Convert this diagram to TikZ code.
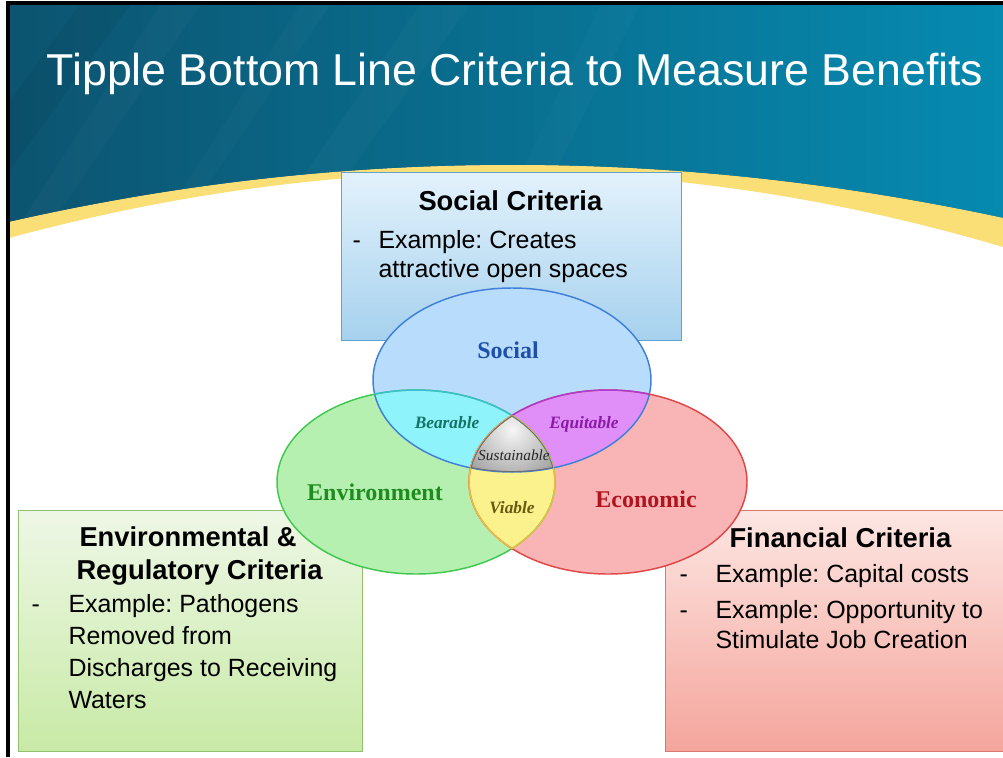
\documentclass[tikz,border=0pt]{standalone}
\usepackage{fontspec}
\setmainfont{Liberation Sans}
\newfontfamily\vennfont{Liberation Serif}
\frenchspacing

\definecolor{headdark}{RGB}{12,84,112}
\definecolor{headlight}{RGB}{6,138,176}
\definecolor{bandyellow}{RGB}{250,222,118}
\definecolor{socialfill}{RGB}{184,220,251}
\definecolor{envfill}{RGB}{182,240,176}
\definecolor{econfill}{RGB}{249,181,181}
\definecolor{bearfill}{RGB}{143,243,251}
\definecolor{equifill}{RGB}{223,143,247}
\definecolor{viafill}{RGB}{251,242,142}
\definecolor{socialline}{RGB}{64,128,216}
\definecolor{envline}{RGB}{64,200,80}
\definecolor{econline}{RGB}{224,72,72}
\definecolor{bearline}{RGB}{60,190,210}
\definecolor{equiline}{RGB}{170,60,210}
\definecolor{vialine}{RGB}{232,190,64}
\definecolor{sustline}{RGB}{110,110,110}
\definecolor{sociallabel}{RGB}{31,79,168}
\definecolor{envlabel}{RGB}{30,140,30}
\definecolor{econlabel}{RGB}{176,20,30}
\definecolor{bearlabel}{RGB}{19,116,102}
\definecolor{equilabel}{RGB}{138,26,166}
\definecolor{vialabel}{RGB}{106,90,16}

\newcommand{\socialEllipse}{(512,380) ellipse [x radius=139, y radius=92]}
\newcommand{\envEllipse}{(416,482) ellipse [x radius=139, y radius=92]}
\newcommand{\econEllipse}{(608,482) ellipse [x radius=139, y radius=92]}

\tikzset{every picture/.style={line width=0.75pt},
  headtext/.style={inner sep=0pt, font=\bfseries\fontsize{20.5}{24}\selectfont},
  bodytext/.style={inner sep=0pt, font=\fontsize{18.7}{22}\selectfont},
  vennbig/.style={inner sep=0pt, font=\vennfont\bfseries\fontsize{18}{20}\selectfont},
  vennsmall/.style={inner sep=0pt, font=\vennfont\bfseries\itshape\fontsize{13}{15}\selectfont}}

\begin{document}
\begin{tikzpicture}[x=0.75pt,y=0.75pt,yscale=-1,xscale=1]
\useasboundingbox (0,0) rectangle (1003,757);
\fill[white] (0,0) rectangle (1003,757);

%Shape: Header
\fill[left color=headdark, right color=headlight] (9,5) -- (1003,5) -- (1003,218) .. controls (670,146.7) and (340,146.7) .. (9,222) -- cycle ;
\begin{scope}
\clip (9,5) -- (1003,5) -- (1003,218) .. controls (670,146.7) and (340,146.7) .. (9,222) -- cycle ;
\fill[white, opacity=0.025] (160,5) -- (200,5) -- (40,240) -- (10,240) -- cycle ;
\fill[white, opacity=0.02] (300,5) -- (330,5) -- (170,240) -- (150,240) -- cycle ;
\fill[white, opacity=0.025] (420,5) -- (470,5) -- (300,240) -- (260,240) -- cycle ;
\fill[black, opacity=0.05] (80,5) -- (130,5) -- (10,170) -- (10,100) -- cycle ;
\fill[white, opacity=0.02] (600,5) -- (640,5) -- (520,240) -- (490,240) -- cycle ;
\end{scope}
%Shape: Yellow band
\fill[bandyellow] (9,222) .. controls (340,146.7) and (670,146.7) .. (1003,218) -- (1003,247) .. controls (670,148.5) and (340,148.5) .. (9,238) -- cycle ;
%Straight Lines: frame
\draw[line width=3pt] (8,757) -- (8,3) -- (1003,3) ;

% Text Node
\draw (515,85) node [anchor=base, inner sep=0pt, text=white, font=\fontsize{33.5}{38}\selectfont] (title) {Tipple Bottom Line Criteria to Measure Benefits};

%Shape: Rectangle [social criteria]
\draw[draw={rgb,255:red,95;green,164;blue,208}, top color={rgb,255:red,227;green,242;blue,252}, bottom color={rgb,255:red,166;green,209;blue,238}] (341,172) rectangle (681,340) ;
%Shape: Rectangle [environmental criteria]
\draw[draw={rgb,255:red,146;green,192;blue,110}, top color={rgb,255:red,238;green,247;blue,230}, bottom color={rgb,255:red,200;green,234;blue,166}] (18,510) rectangle (362,751) ;
%Shape: Rectangle [financial criteria]
\draw[draw={rgb,255:red,217;green,122;blue,112}, top color={rgb,255:red,253;green,230;blue,226}, bottom color={rgb,255:red,244;green,165;blue,156}] (665,510) rectangle (1010,751) ;

%Shape: Ellipses
\fill[socialfill] \socialEllipse ;
\fill[envfill] \envEllipse ;
\fill[econfill] \econEllipse ;
\begin{scope}
\clip \socialEllipse ;
\fill[bearfill] \envEllipse ;
\fill[equifill] \econEllipse ;
\end{scope}
\begin{scope}
\clip \envEllipse ;
\fill[viafill] \econEllipse ;
\end{scope}
\begin{scope}
\clip \socialEllipse ;
\clip \envEllipse ;
\clip \econEllipse ;
\fill[inner color={rgb,255:red,246;green,246;blue,246}, outer color={rgb,255:red,150;green,150;blue,150}] (512,430) circle [radius=62] ;
\end{scope}
\draw[socialline, line width=1.1pt] \socialEllipse ;
\draw[envline, line width=1.1pt] \envEllipse ;
\draw[econline, line width=1.1pt] \econEllipse ;
%Overlap borders
\begin{scope}
\clip \socialEllipse ;
\draw[bearline, line width=1.1pt] \envEllipse ;
\draw[equiline, line width=1.1pt] \econEllipse ;
\end{scope}
\begin{scope}
\clip \envEllipse ;
\draw[vialine, line width=1.1pt] \econEllipse ;
\end{scope}
\begin{scope}
\clip \econEllipse ;
\draw[vialine, line width=1.1pt] \envEllipse ;
\end{scope}
\begin{scope}
\clip \socialEllipse ;
\clip \envEllipse ;
\clip \econEllipse ;
\draw[sustline, line width=1.4pt] \socialEllipse ;
\draw[sustline, line width=1.4pt] \envEllipse ;
\draw[sustline, line width=1.4pt] \econEllipse ;
\end{scope}

% Text Node
\draw (418,210) node [anchor=base west, headtext] (socialhead) {Social Criteria};
% Text Node
\draw (352,248) node [anchor=base west, bodytext] (socialdash) {-};
% Text Node
\draw (378,248) node [anchor=base west, bodytext] (socialone) {Example: Creates};
% Text Node
\draw (378,277) node [anchor=base west, bodytext] (socialtwo) {attractive open spaces};

% Text Node
\draw (79,546) node [anchor=base west, headtext] (envhead) {Environmental \&};
% Text Node
\draw (76,579) node [anchor=base west, headtext] (envheadtwo) {Regulatory Criteria};
% Text Node
\draw (31,612) node [anchor=base west, bodytext] (envdash) {-};
% Text Node
\draw (68,612) node [anchor=base west, bodytext] (envone) {Example: Pathogens};
% Text Node
\draw (68,644) node [anchor=base west, bodytext] (envtwo) {Removed from};
% Text Node
\draw (68,676) node [anchor=base west, bodytext] (envthree) {Discharges to Receiving};
% Text Node
\draw (68,708) node [anchor=base west, bodytext] (envfour) {Waters};

% Text Node
\draw (729,547) node [anchor=base west, headtext] (finhead) {Financial Criteria};
% Text Node
\draw (679,582) node [anchor=base west, bodytext] (findashone) {-};
% Text Node
\draw (715,582) node [anchor=base west, bodytext] (finone) {Example: Capital costs};
% Text Node
\draw (679,618) node [anchor=base west, bodytext] (findashtwo) {-};
% Text Node
\draw (715,618) node [anchor=base west, bodytext] (fintwo) {Example: Opportunity to};
% Text Node
\draw (715,648) node [anchor=base west, bodytext] (finthree) {Stimulate Job Creation};

% Text Node
\draw (508,358) node [anchor=base, vennbig, text=sociallabel] (social) {Social};
% Text Node
\draw (375,500) node [anchor=base, vennbig, text=envlabel] (environment) {Environment};
% Text Node
\draw (646,507) node [anchor=base, vennbig, text=econlabel] (economic) {Economic};
% Text Node
\draw (447,428) node [anchor=base, vennsmall, text=bearlabel] (bearable) {Bearable};
% Text Node
\draw (584,428) node [anchor=base, vennsmall, text=equilabel] (equitable) {Equitable};
% Text Node
\draw (514,460) node [anchor=base, inner sep=0pt, font=\vennfont\itshape\fontsize{11.5}{13}\selectfont, text=black!85] (sustainable) {Sustainable};
% Text Node
\draw (512,513) node [anchor=base, vennsmall, text=vialabel] (viable) {Viable};

\end{tikzpicture}
\end{document}
